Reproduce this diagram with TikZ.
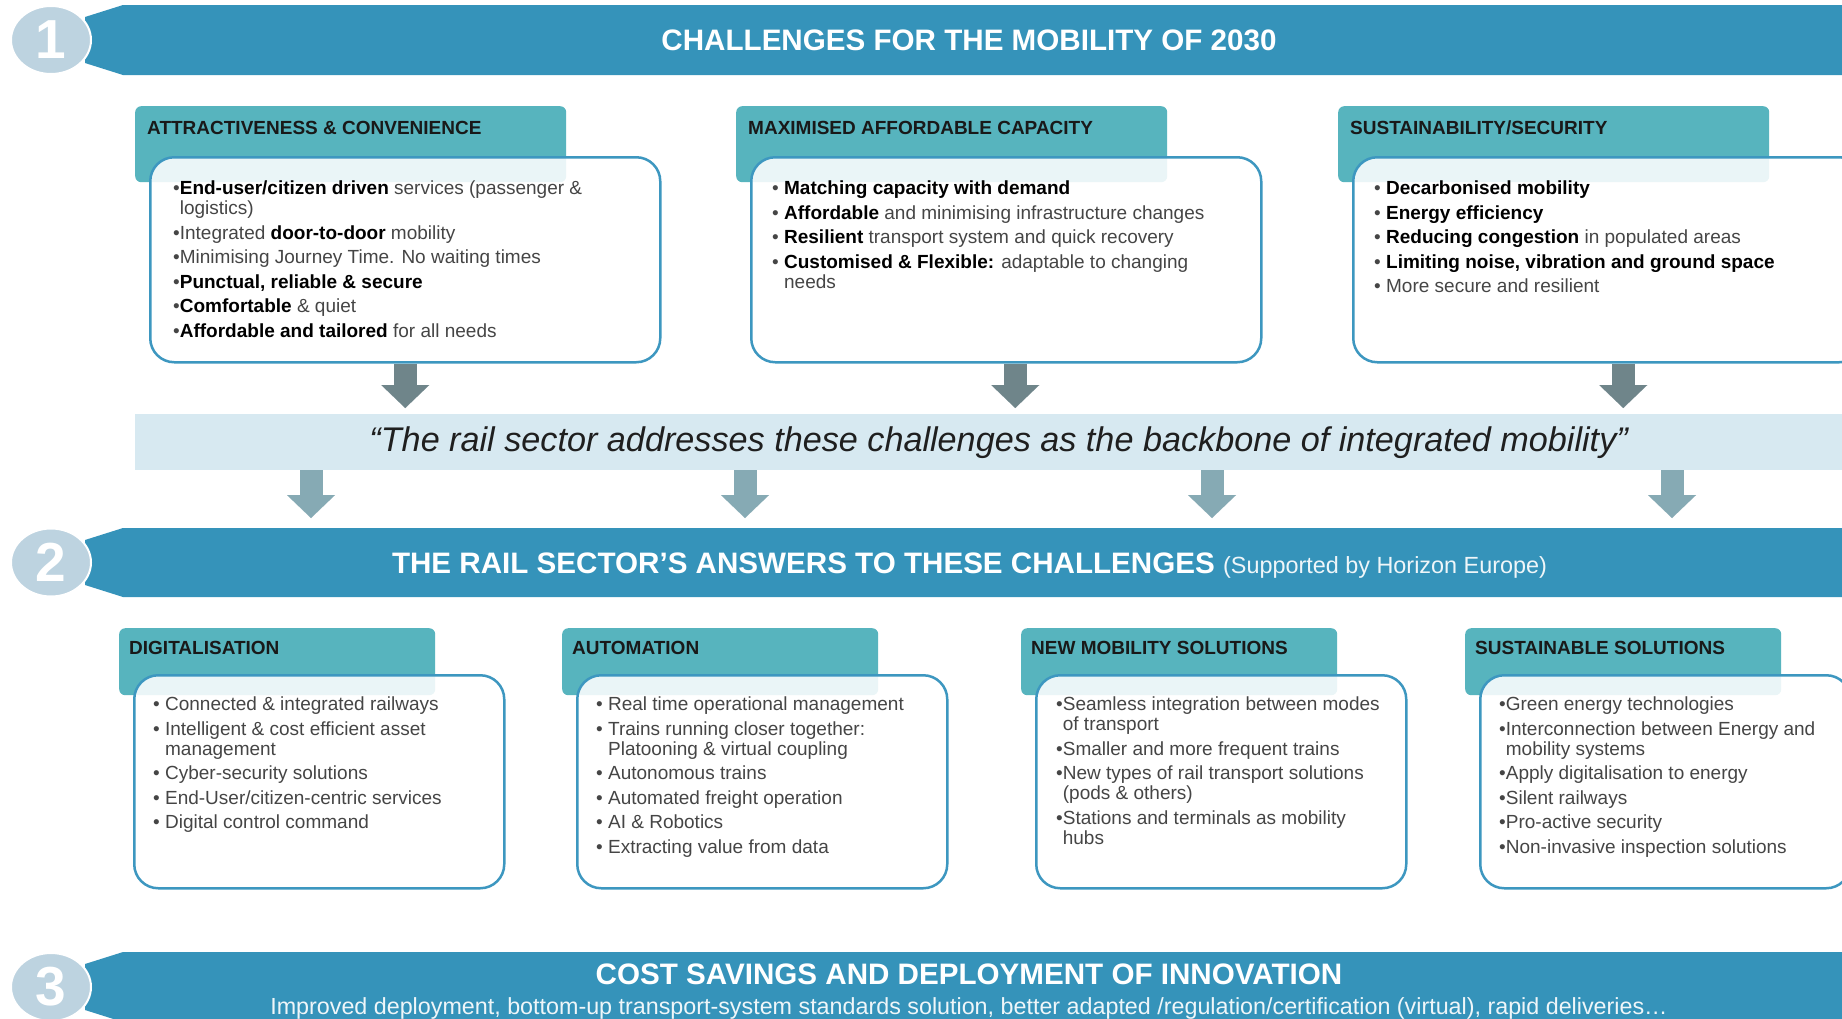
\documentclass[tikz,border=0pt]{standalone}
\usepackage{fontspec}
\setmainfont{Liberation Sans}
\usetikzlibrary{positioning,arrows.meta,shapes.geometric}

\definecolor{bannerblue}{HTML}{3593BA}
\definecolor{discblue}{HTML}{BDD3E0}
\definecolor{headteal}{HTML}{57B4BE}
\definecolor{frameblue}{HTML}{3D97C0}
\definecolor{arrowdark}{HTML}{6F858A}
\definecolor{arrowlight}{HTML}{86AAB4}
\definecolor{bandblue}{HTML}{D7E9F1}
\definecolor{bodygray}{HTML}{454545}

\newcommand{\bld}[1]{{\bfseries\color{black}#1}}
\newcommand{\bul}{\textbullet}

\begin{document}
\begin{tikzpicture}[x=1pt, y=-1pt,
	banner/.style={fill=bannerblue},
	disc/.style={ellipse, fill=discblue, draw=white, line width=2pt, minimum width=80pt, minimum height=68pt, inner sep=0pt, text=white, font=\fontsize{55}{55}\selectfont\bfseries},
	bantitle/.style={anchor=base, inner sep=0pt, text=white, font=\fontsize{29.6}{30}\selectfont\bfseries},
	headbox/.style={fill=headteal, rounded corners=6pt, anchor=north west, inner sep=0pt},
	headtext/.style={anchor=base west, inner sep=0pt, text=black!90, font=\fontsize{19}{20}\selectfont\bfseries},
	frame/.style={draw=frameblue, line width=2.5pt, fill=white, fill opacity=0.88, rounded corners=24pt, anchor=north west, inner sep=0pt},
	bodytext/.style={anchor=north west, align=left, inner sep=0pt, text=bodygray, font=\fontsize{19}{20}\selectfont},
	downarrow/.style={line width=23pt, -{Triangle[length=23pt, width=48pt, line width=0.01pt]}}]
	
	\useasboundingbox (0,0) rectangle (1842,1018);
	\fill[white] (0,0) rectangle (1842,1018);
	
	\foreach \t/\b [count=\i] in {5/75, 528/597, 952/1022} {
		\fill[banner] (123,\t) -- (85,\t+12) -- (85,\b-12) -- (123,\b) -- (1862,\b) -- (1862,\t) -- cycle;
		\coordinate (ban-\i) at (123,\t);
		\node[disc] (num-\i) at (51,{(\t+\b)/2}) {\i};
	}
	
	\node[bantitle] (ban-title-1) at (969,50.6) {CHALLENGES FOR THE MOBILITY OF 2030};
	\node[bantitle] (ban-title-2) at (969.5,573.6) {THE RAIL SECTOR’S ANSWERS TO THESE CHALLENGES {\fontsize{23.4}{24}\selectfont\mdseries\color{white!92!bannerblue}(Supported by Horizon Europe)}};
	\node[bantitle] (ban-title-3) at (969,984.6) {COST SAVINGS AND DEPLOYMENT OF INNOVATION};
	\node[bantitle, font=\fontsize{23.3}{24}\selectfont, text=white!92!bannerblue] (ban-sub-3) at (969,1014) {Improved deployment, bottom-up transport-system standards solution, better adapted /regulation/certification (virtual), rapid deliveries…};
	
	\foreach \x/\name [count=\i] in {135/{ATTRACTIVENESS \& CONVENIENCE}, 736/{MAXIMISED AFFORDABLE CAPACITY}, 1338/{SUSTAINABILITY/SECURITY}} {
		\node[headbox, minimum width=431pt, minimum height=76pt] (chal-head-\i) at (\x,106) {};
		\node[headtext] at (\x+12,134) {\name};
		\node[frame, minimum width=510pt, minimum height=205pt] (chal-\i) at (\x+14,156) {};
	}
	
	\node[bodytext] (chal-text-1) at (173,181) {\bul\bld{End-user/citizen driven} services (passenger \&\\
		\hphantom{\bul}logistics)\\[4.5pt]
		\bul Integrated \bld{door-to-door} mobility\\[4.5pt]
		\bul Minimising Journey Time. No waiting times\\[4.5pt]
		\bul\bld{Punctual, reliable \& secure}\\[4.5pt]
		\bul\bld{Comfortable} \& quiet\\[4.5pt]
		\bul\bld{Affordable and tailored} for all needs};
	\node[bodytext] (chal-text-2) at (772,181) {\bul{} \bld{Matching capacity with demand}\\[4.5pt]
		\bul{} \bld{Affordable} and minimising infrastructure changes\\[4.5pt]
		\bul{} \bld{Resilient} transport system and quick recovery\\[4.5pt]
		\bul{} \bld{Customised \& Flexible:} adaptable to changing\\
		\hphantom{\bul{} }needs};
	\node[bodytext] (chal-text-3) at (1374,181) {\bul{} \bld{Decarbonised mobility}\\[4.5pt]
		\bul{} \bld{Energy efficiency}\\[4.5pt]
		\bul{} \bld{Reducing congestion} in populated areas\\[4.5pt]
		\bul{} \bld{Limiting noise, vibration and ground space}\\[4.5pt]
		\bul{} More secure and resilient};
	
	\node[fill=bandblue, minimum width=1727pt, minimum height=56pt, anchor=north west, inner sep=0pt, text=black!88, font=\fontsize{34.2}{36}\selectfont\itshape] (quote) at (135,414) {“The rail sector addresses these challenges as the backbone of integrated mobility”};
	
	\foreach \s [count=\i] in {0,9,15} {
		\coordinate (up-\i) at ([xshift=\s pt]chal-\i.south);
		\draw[downarrow, arrowdark, shorten >=6pt] (up-\i) -- (up-\i |- quote.north);
	}
	
	\foreach \x [count=\i] in {311,745,1212,1672} {
		\coordinate (down-\i) at (\x,0);
		\draw[downarrow, arrowlight, shorten >=10pt] (down-\i |- quote.south) -- (down-\i |- ban-2);
	}
	
	\foreach \x/\name [count=\i] in {119/DIGITALISATION, 562/AUTOMATION, 1021/{NEW MOBILITY SOLUTIONS}, 1465/{SUSTAINABLE SOLUTIONS}} {
		\node[headbox, minimum width=316pt, minimum height=67pt] (ans-head-\i) at (\x,628) {};
		\node[headtext] at (\x+10,654) {\name};
		\node[frame, minimum width=370pt, minimum height=213pt] (ans-\i) at (\x+14,674) {};
	}
	
	\node[bodytext] (ans-text-1) at (153,697) {\bul{} Connected \& integrated railways\\[4.5pt]
		\bul{} Intelligent \& cost efficient asset\\
		\hphantom{\bul{} }management\\[4.5pt]
		\bul{} Cyber-security solutions\\[4.5pt]
		\bul{} End-User/citizen-centric services\\[4.5pt]
		\bul{} Digital control command};
	\node[bodytext] (ans-text-2) at (596,697) {\bul{} Real time operational management\\[4.5pt]
		\bul{} Trains running closer together:\\
		\hphantom{\bul{} }Platooning \& virtual coupling\\[4.5pt]
		\bul{} Autonomous trains\\[4.5pt]
		\bul{} Automated freight operation\\[4.5pt]
		\bul{} AI \& Robotics\\[4.5pt]
		\bul{} Extracting value from data};
	\node[bodytext] (ans-text-3) at (1056,697) {\bul Seamless integration between modes\\
		\hphantom{\bul}of transport\\[4.5pt]
		\bul Smaller and more frequent trains\\[4.5pt]
		\bul New types of rail transport solutions\\
		\hphantom{\bul}(pods \& others)\\[4.5pt]
		\bul Stations and terminals as mobility\\
		\hphantom{\bul}hubs};
	\node[bodytext] (ans-text-4) at (1499,697) {\bul Green energy technologies\\[4.5pt]
		\bul Interconnection between Energy and\\
		\hphantom{\bul}mobility systems\\[4.5pt]
		\bul Apply digitalisation to energy\\[4.5pt]
		\bul Silent railways\\[4.5pt]
		\bul Pro-active security\\[4.5pt]
		\bul Non-invasive inspection solutions};
	
\end{tikzpicture}
\end{document}
